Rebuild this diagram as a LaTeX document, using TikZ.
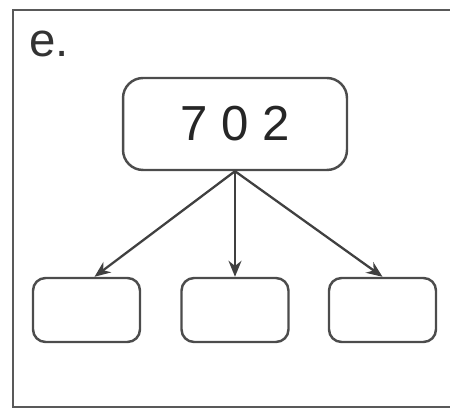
\documentclass[tikz,border=0pt]{standalone}
\usepackage{fontspec}
\setmainfont{Liberation Sans}
\usetikzlibrary{arrows.meta}

\begin{document}
\begin{tikzpicture}[x=0.02cm,y=-0.02cm]
	\tikzset{box/.style={draw=black!70,line width=1.4pt,rounded corners=0.25cm,minimum width=2.14cm,minimum height=1.28cm,inner sep=0pt},
		link/.style={draw=black!75,line width=1.3pt,-{Stealth[length=0.32cm,width=0.26cm]}}}
	\useasboundingbox (0,0) rectangle (450,408);
	% frame
	\draw [black!65,line width=1.5pt] (450,10) -- (13,10) -- (13,407) -- (450,407);
	\node (lab) [anchor=base west,font=\fontsize{27}{32}\selectfont,text=black!80,inner sep=0pt] at (29,57) {e.};
	% number
	\node (top) [box,rounded corners=0.4cm,minimum width=4.48cm,minimum height=1.84cm,font=\fontsize{28}{34}\selectfont,text=black!85] at (235,124) {7 0 2};
	% empty boxes
	\node (b1) [box] at (86.5,310) {};
	\node (b2) [box] at (235,310) {};
	\node (b3) [box] at (382.5,310) {};
	\draw [link] (top.south) -- ([xshift=0.16cm]b1.north);
	\draw [link] (top.south) -- (b2.north);
	\draw [link] (top.south) -- (b3.north);
\end{tikzpicture}
\end{document}
